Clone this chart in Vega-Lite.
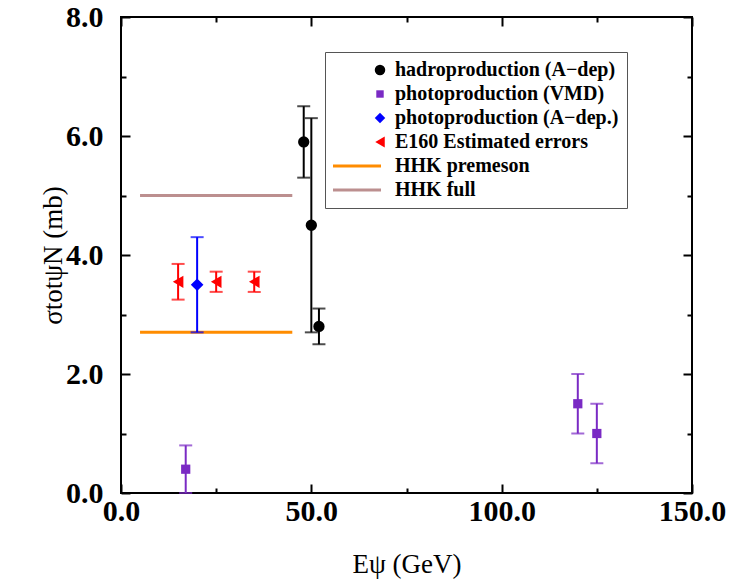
{
  "$schema": "https://vega.github.io/schema/vega-lite/v6.json",
  "width": 571,
  "height": 476,
  "autosize": {"type": "none"},
  "padding": {"left": 121, "top": 17, "right": 40, "bottom": 95},
  "background": "white",
  "config": {
    "view": {"stroke": "black", "strokeWidth": 2},
    "font": "Liberation Serif",
    "axis": {"domain": false, "grid": false, "ticks": true, "tickColor": "black", "tickWidth": 2}
  },
  "resolve": {"axis": {"x": "independent", "y": "independent"}},
  "datasets": {
    "pts": [
      {"series": "hadroproduction (A−dep)", "x": 48, "y": 5.9, "lo": 5.3, "hi": 6.5},
      {"series": "hadroproduction (A−dep)", "x": 50, "y": 4.5, "lo": 2.7, "hi": 6.3},
      {"series": "hadroproduction (A−dep)", "x": 52, "y": 2.8, "lo": 2.5, "hi": 3.1},
      {"series": "photoproduction (VMD)", "x": 17, "y": 0.4, "lo": 0.0, "hi": 0.8},
      {"series": "photoproduction (VMD)", "x": 120, "y": 1.5, "lo": 1.0, "hi": 2.0},
      {"series": "photoproduction (VMD)", "x": 125, "y": 1.0, "lo": 0.5, "hi": 1.5},
      {"series": "photoproduction (A−dep.)", "x": 20, "y": 3.5, "lo": 2.7, "hi": 4.3},
      {"series": "E160 Estimated errors", "x": 15, "y": 3.55, "lo": 3.25, "hi": 3.85},
      {"series": "E160 Estimated errors", "x": 25, "y": 3.55, "lo": 3.38, "hi": 3.72},
      {"series": "E160 Estimated errors", "x": 35, "y": 3.55, "lo": 3.38, "hi": 3.72}
    ],
    "lines": [
      {"series": "HHK premeson", "x": 5, "y": 2.7},
      {"series": "HHK premeson", "x": 45, "y": 2.7},
      {"series": "HHK full", "x": 5, "y": 5.0},
      {"series": "HHK full", "x": 45, "y": 5.0}
    ]
  },
  "layer": [
    {
      "data": {"name": "lines"},
      "mark": {"type": "line", "strokeWidth": 3},
      "encoding": {
        "x": {
          "field": "x", "type": "quantitative",
          "scale": {"domain": [0, 150], "nice": false},
          "axis": {
            "orient": "bottom", "offset": -9, "tickSize": 9,
            "title": "Eψ (GeV)",
            "titleFontSize": 27, "titleFontWeight": "normal", "titleColor": "black", "titlePadding": 25,
            "values": [0, 50, 100, 150],
            "format": ".1f",
            "labelFontSize": 30, "labelFontWeight": "bold", "labelColor": "black", "labelPadding": 3,
            "labelFlush": false
          }
        },
        "y": {
          "field": "y", "type": "quantitative",
          "scale": {"domain": [0, 8], "nice": false},
          "axis": {
            "orient": "left", "offset": -9, "tickSize": 9,
            "title": "σtotψN (mb)",
            "titleFontSize": 27, "titleFontWeight": "normal", "titleColor": "black", "titlePadding": -2,
            "values": [0, 2, 4, 6, 8],
            "format": ".1f",
            "labelFontSize": 30, "labelFontWeight": "bold", "labelColor": "black", "labelPadding": 18,
            "labelFlush": false
          }
        },
        "detail": {"field": "series"},
        "color": {
          "field": "series", "type": "nominal",
          "scale": {
            "domain": ["hadroproduction (A−dep)", "photoproduction (VMD)", "photoproduction (A−dep.)", "E160 Estimated errors", "HHK premeson", "HHK full"],
            "range": ["#000000", "#7a2ac4", "#0000ff", "#ff0000", "#ff8c00", "#bc8f8f"]
          },
          "legend": {
            "title": null,
            "orient": "none", "legendX": 204, "legendY": 35,
            "strokeColor": "#555555", "padding": 8, "symbolOffset": 4,
            "labelFont": "Liberation Serif", "labelFontSize": 20, "labelFontWeight": "bold", "labelColor": "black",
            "labelLimit": 0,
            "rowPadding": 4, "labelOffset": 38, "symbolSize": 2304,
            "encode": {
              "symbols": {
                "update": {
                  "stroke": {"scale": "color", "field": "value"},
                  "strokeWidth": {"signal": "datum.value === 'HHK premeson' || datum.value === 'HHK full' ? 3 : 0"},
                  "size": {"signal": "datum.value === 'HHK premeson' || datum.value === 'HHK full' ? 2304 : datum.value === 'photoproduction (VMD)' ? 55 : datum.value === 'E160 Estimated errors' ? 120 : 110"},
                  "x": {"signal": "datum.value === 'HHK premeson' || datum.value === 'HHK full' ? 24 : 47"}
                }
              }
            }
          }
        },
        "shape": {
          "field": "series", "type": "nominal",
          "scale": {
            "domain": ["hadroproduction (A−dep)", "photoproduction (VMD)", "photoproduction (A−dep.)", "E160 Estimated errors", "HHK premeson", "HHK full"],
            "range": ["circle", "square", "diamond", "triangle-left", "stroke", "stroke"]
          },
          "legend": null
        }
      }
    },
    {
      "data": {"name": "pts"},
      "mark": {"type": "rule", "strokeWidth": 2},
      "encoding": {
        "x": {
          "field": "x", "type": "quantitative",
          "axis": {"orient": "top", "offset": -9, "tickSize": 9, "title": null, "labels": false, "values": [0, 50, 100, 150]}
        },
        "y": {
          "field": "lo", "type": "quantitative",
          "axis": {"orient": "right", "offset": -9, "tickSize": 9, "title": null, "labels": false, "values": [0, 2, 4, 6, 8]}
        },
        "y2": {"field": "hi"},
        "color": {"field": "series", "type": "nominal"}
      }
    },
    {
      "data": {"name": "pts"},
      "mark": {"type": "tick", "orient": "horizontal", "size": 13, "thickness": 2},
      "encoding": {
        "x": {
          "field": "x", "type": "quantitative",
          "axis": {"orient": "bottom", "offset": -5, "tickSize": 5, "title": null, "labels": false, "values": [25, 75, 125]}
        },
        "y": {
          "field": "lo", "type": "quantitative",
          "axis": {"orient": "left", "offset": -5, "tickSize": 5, "title": null, "labels": false, "values": [1, 3, 5, 7]}
        },
        "color": {"field": "series", "type": "nominal"}
      }
    },
    {
      "data": {"name": "pts"},
      "mark": {"type": "tick", "orient": "horizontal", "size": 13, "thickness": 2},
      "encoding": {
        "x": {
          "field": "x", "type": "quantitative",
          "axis": {"orient": "top", "offset": -5, "tickSize": 5, "title": null, "labels": false, "values": [25, 75, 125]}
        },
        "y": {
          "field": "hi", "type": "quantitative",
          "axis": {"orient": "right", "offset": -5, "tickSize": 5, "title": null, "labels": false, "values": [1, 3, 5, 7]}
        },
        "color": {"field": "series", "type": "nominal"}
      }
    },
    {
      "data": {"name": "pts"},
      "mark": {"type": "point", "filled": true, "opacity": 1},
      "encoding": {
        "x": {"field": "x", "type": "quantitative", "axis": null},
        "y": {"field": "y", "type": "quantitative", "axis": null},
        "color": {"field": "series", "type": "nominal"},
        "shape": {"field": "series", "type": "nominal"},
        "size": {
          "field": "series", "type": "nominal",
          "scale": {
            "type": "ordinal",
            "domain": ["hadroproduction (A−dep)", "photoproduction (VMD)", "photoproduction (A−dep.)", "E160 Estimated errors"],
            "range": [128, 85, 160, 150]
          },
          "legend": null
        }
      }
    }
  ]
}
